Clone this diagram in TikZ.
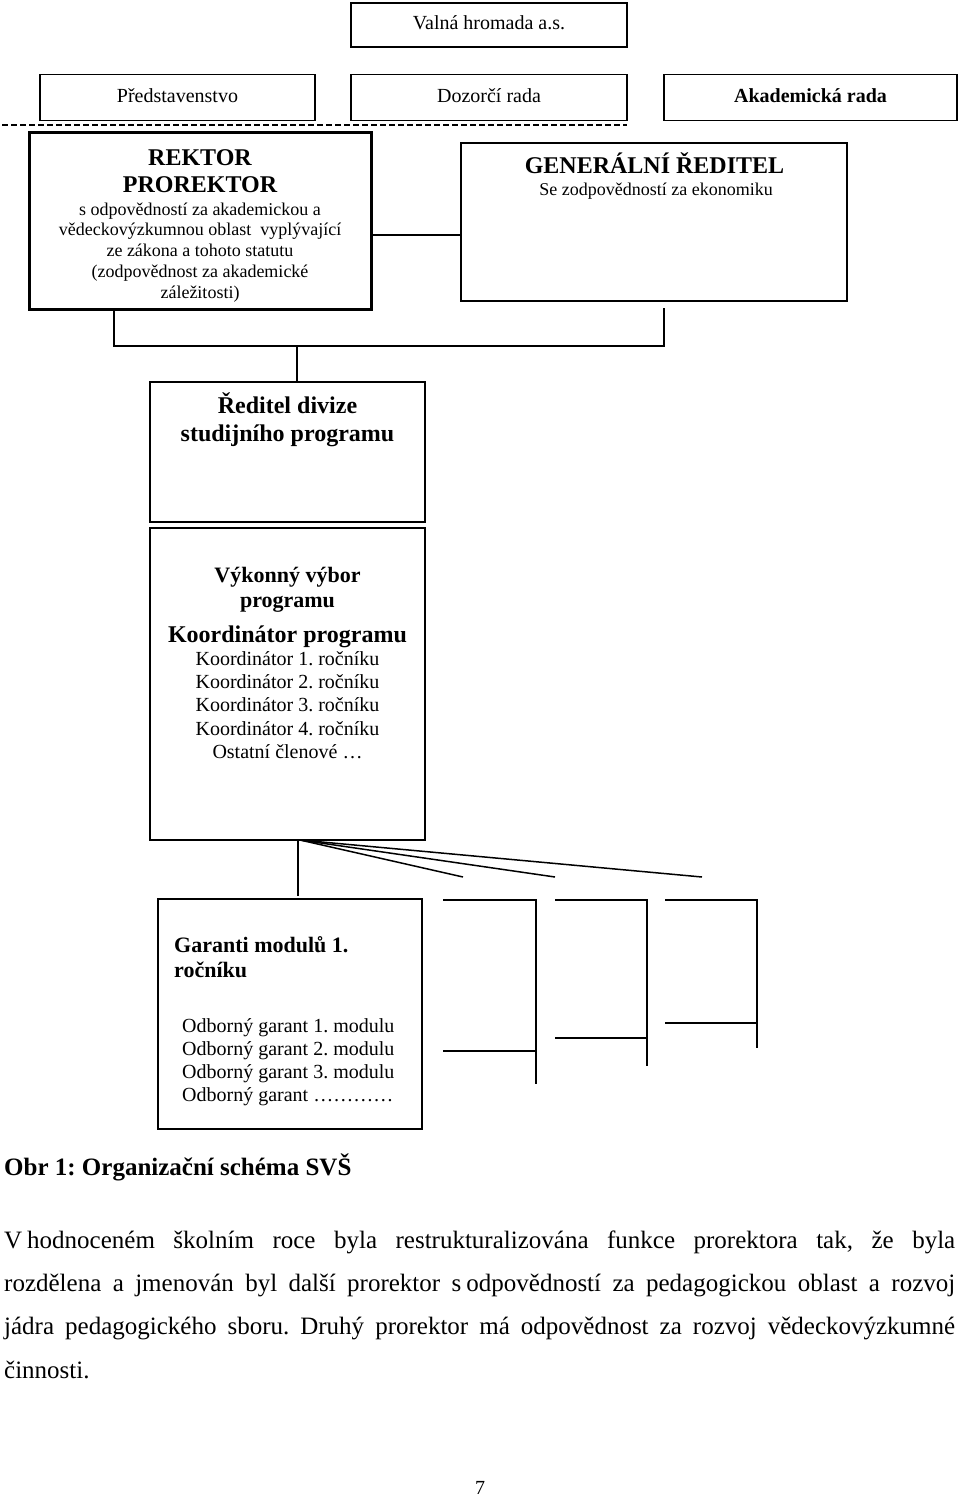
\documentclass[tikz,border=0pt]{standalone}
\usepackage{fontspec}
\setmainfont{Liberation Serif}
\newcommand\strutH[1]{\rule{0pt}{#1pt}}
\frenchspacing
\begin{document}
\begin{tikzpicture}[x=1pt,y=-1pt,
  box/.style={draw, line width=1.4pt, inner sep=0pt, align=center,
    font=\fontsize{20}{24}\selectfont, text height=14pt, text depth=5pt},
  tx/.style={inner sep=0pt},
  conn/.style={draw, line width=1.5pt},
  dashline/.style={draw, line width=2pt, dash pattern=on 5.5pt off 3.5pt}]
\fill[white] (0,0) rectangle (960,1496);
\useasboundingbox (0,0) rectangle (960,1496);

% top level
\node[box, minimum width=276pt, minimum height=44pt] (valna) at (489,25) {Valná hromada a.s.};
\node[box, minimum width=275pt, minimum height=46pt] (pred) at (177.5,97.5) {Představenstvo};
\node[box, minimum width=276pt, minimum height=46pt] (dozor) at (489,97.5) {Dozorčí rada};
\node[box, minimum width=293pt, minimum height=46pt, font=\fontsize{20}{24}\selectfont\bfseries] (akad) at (810.5,97.5) {Akademická rada};

\coordinate (dl) at (2,125);
\coordinate (dr) at (627,125);
\draw[dashline] (dl) -- (dr);

% rektor
\node[box, line width=3pt, minimum width=342pt, minimum height=177pt] (rektor) at (200,220.5) {};
\node[tx, anchor=north, align=center, font=\fontsize{24}{27}\selectfont\bfseries] (rektorT) at (200,141) {\strutH{24}REKTOR\\PROREKTOR};
\node[tx, anchor=north, align=center, font=\fontsize{18}{20.7}\selectfont] (rektorD) at (200,197) {\strutH{18}s odpovědností za akademickou a\\vědeckovýzkumnou oblast\ \ vyplývající\\ze zákona a tohoto statutu\\(zodpovědnost za akademické\\záležitosti)};

% generalni reditel
\node[box, minimum width=386pt, minimum height=158pt] (gr) at (654,222) {};
\node[tx, anchor=base, font=\fontsize{24}{27}\selectfont\bfseries] (grT) at (654.5,173) {GENERÁLNÍ ŘEDITEL};
\node[tx, anchor=base, font=\fontsize{18}{21}\selectfont] (grD) at (656,195.5) {Se zodpovědností za ekonomiku};

\coordinate (hc) at (0,235);
\draw[conn] (rektor.east |- hc) -- (gr.west |- hc);

\coordinate (bl) at (114,346);
\coordinate (br) at (664,346);
\coordinate (bre) at (664,308);
\coordinate (bm) at (297,346);
\draw[conn] (rektor.south -| bl) -- (bl) -- (br) -- (bre);

% reditel divize
\node[box, minimum width=275pt, minimum height=140pt] (reditel) at (287.5,452) {};
\node[tx, anchor=north, align=center, font=\fontsize{24}{28.5}\selectfont\bfseries] (reditelT) at (287.5,389) {\strutH{24}Ředitel divize\\studijního programu};
\draw[conn] (bm) -- (reditel.north -| bm);

% vykonny vybor
\node[box, minimum width=275pt, minimum height=312pt] (vykon) at (287.5,684) {};
\node[tx, anchor=north, align=center, font=\fontsize{22}{25.6}\selectfont\bfseries] (vykT) at (287.5,560) {\strutH{22}Výkonný výbor\\programu};
\node[tx, anchor=base, font=\fontsize{24}{27}\selectfont\bfseries] (koordT) at (287.5,642) {Koordinátor programu};
\node[tx, anchor=north, align=center, font=\fontsize{20}{23.3}\selectfont] (koordD) at (287.5,645) {\strutH{20}Koordinátor 1. ročníku\\Koordinátor 2. ročníku\\Koordinátor 3. ročníku\\Koordinátor 4. ročníku\\Ostatní členové …};

% garanti
\node[box, minimum width=264pt, minimum height=230pt] (garanti) at (290,1014) {};
\node[tx, anchor=north west, align=left, font=\fontsize{22}{25}\selectfont\bfseries] (garT) at (174,930) {\strutH{22}Garanti modulů 1.\\ročníku};
\node[tx, anchor=north west, align=left, font=\fontsize{20}{23}\selectfont] (garD) at (182,1012) {\strutH{20}Odborný garant 1. modulu\\Odborný garant 2. modulu\\Odborný garant 3. modulu\\Odborný garant …………};

\coordinate (vg) at (298,896);
\draw[conn] (vykon.south -| vg) -- (vg);
\coordinate (fo) at (300,840);
\coordinate (f1) at (463,877);
\coordinate (f2) at (555,877);
\coordinate (f3) at (702,877);
\draw[conn] (fo) -- (f1);
\draw[conn] (fo) -- (f2);
\draw[conn] (fo) -- (f3);

% open brackets
\draw[conn] (443,900) -- (536,900) -- (536,1084) (443,1051) -- (536,1051);
\draw[conn] (555,900) -- (647,900) -- (647,1066) (555,1038) -- (647,1038);
\draw[conn] (665,900) -- (757,900) -- (757,1048) (665,1023) -- (757,1023);

% caption and paragraph
\node[tx, anchor=base west, font=\fontsize{25}{30}\selectfont\bfseries] (cap) at (4,1175) {Obr 1: Organizační schéma SVŠ};
\node[tx, anchor=base west, font=\fontsize{25}{30}\selectfont] (p1) at (4,1248) {\makebox[951pt][s]{V\kern5pt hodnoceném školním roce byla restrukturalizována funkce prorektora tak, že byla}};
\node[tx, anchor=base west, font=\fontsize{25}{30}\selectfont] (p2) at (4,1291.5) {\makebox[951pt][s]{rozdělena a jmenován byl další prorektor s\kern5pt odpovědností za pedagogickou oblast a rozvoj}};
\node[tx, anchor=base west, font=\fontsize{25}{30}\selectfont] (p3) at (4,1334.5) {\makebox[951pt][s]{jádra pedagogického sboru. Druhý prorektor má odpovědnost za rozvoj vědeckovýzkumné}};
\node[tx, anchor=base west, font=\fontsize{25}{30}\selectfont] (p4) at (4,1378) {činnosti.};

\node[tx, anchor=base, font=\fontsize{20}{24}\selectfont] (pg) at (480,1494) {7};
\end{tikzpicture}
\end{document}
